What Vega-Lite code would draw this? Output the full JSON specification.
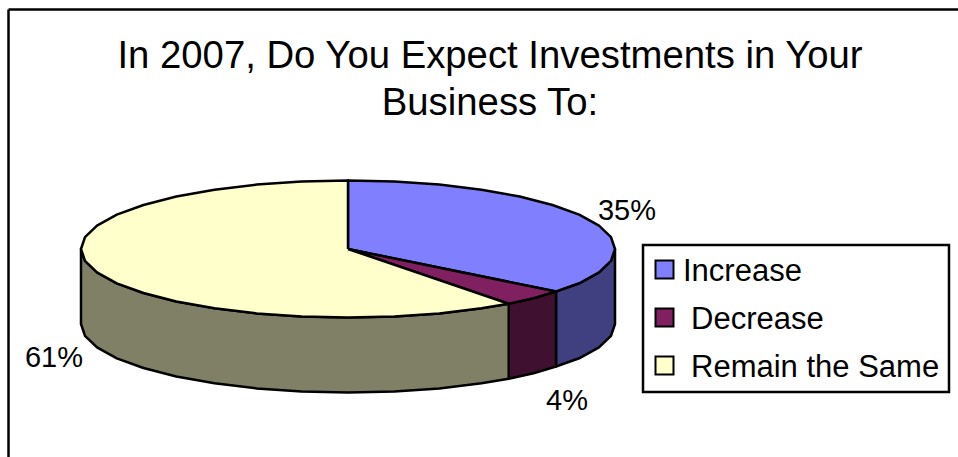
{
"$schema":"https://vega.github.io/schema/vega-lite/v6.json",
"width":950,"height":448,
"padding":{"left":8,"top":9,"right":0,"bottom":0},
"autosize":"none",
"background":"white",
"view":{"stroke":null},
"title":{"text":["In 2007, Do You Expect Investments in Your","Business To:"],"anchor":"middle","dx":7,"offset":-114,"font":"Liberation Sans","fontSize":38.3,"fontWeight":"normal","color":"black","lineHeight":47},
"datasets":{
"sides":[
{"slice":"Increase","i":1,"px":267,"py":0},{"slice":"Increase","i":2,"px":263,"py":-11.9},{"slice":"Increase","i":3,"px":251,"py":-23.4},{"slice":"Increase","i":4,"px":231.2,"py":-34.3},{"slice":"Increase","i":5,"px":208,"py":-42.5},{"slice":"Increase","i":6,"px":208,"py":-117.5},{"slice":"Increase","i":7,"px":231.2,"py":-109.3},{"slice":"Increase","i":8,"px":251,"py":-98.4},{"slice":"Increase","i":9,"px":263,"py":-86.9},{"slice":"Increase","i":10,"px":267,"py":-75},{"slice":"Increase","i":11,"px":267,"py":0},
{"slice":"Decrease","i":1,"px":208,"py":-42.5},{"slice":"Decrease","i":2,"px":185.5,"py":-49.3},{"slice":"Decrease","i":3,"px":160.7,"py":-54.7},{"slice":"Decrease","i":4,"px":160.7,"py":-129.7},{"slice":"Decrease","i":5,"px":185.5,"py":-124.3},{"slice":"Decrease","i":6,"px":208,"py":-117.5},{"slice":"Decrease","i":7,"px":208,"py":-42.5},
{"slice":"Remain the Same","i":1,"px":160.7,"py":-54.7},{"slice":"Remain the Same","i":2,"px":133.5,"py":-59.3},{"slice":"Remain the Same","i":3,"px":91.3,"py":-64.4},{"slice":"Remain the Same","i":4,"px":46.4,"py":-67.5},{"slice":"Remain the Same","i":5,"px":0,"py":-68.5},{"slice":"Remain the Same","i":6,"px":-46.4,"py":-67.5},{"slice":"Remain the Same","i":7,"px":-91.3,"py":-64.4},{"slice":"Remain the Same","i":8,"px":-133.5,"py":-59.3},{"slice":"Remain the Same","i":9,"px":-171.7,"py":-52.5},{"slice":"Remain the Same","i":10,"px":-204.5,"py":-44},{"slice":"Remain the Same","i":11,"px":-231.2,"py":-34.3},{"slice":"Remain the Same","i":12,"px":-251,"py":-23.4},{"slice":"Remain the Same","i":13,"px":-263,"py":-11.9},{"slice":"Remain the Same","i":14,"px":-267,"py":0},{"slice":"Remain the Same","i":15,"px":-267,"py":-75},{"slice":"Remain the Same","i":16,"px":-263,"py":-86.9},{"slice":"Remain the Same","i":17,"px":-251,"py":-98.4},{"slice":"Remain the Same","i":18,"px":-231.2,"py":-109.3},{"slice":"Remain the Same","i":19,"px":-204.5,"py":-119},{"slice":"Remain the Same","i":20,"px":-171.7,"py":-127.5},{"slice":"Remain the Same","i":21,"px":-133.5,"py":-134.3},{"slice":"Remain the Same","i":22,"px":-91.3,"py":-139.4},{"slice":"Remain the Same","i":23,"px":-46.4,"py":-142.5},{"slice":"Remain the Same","i":24,"px":0,"py":-143.5},{"slice":"Remain the Same","i":25,"px":46.4,"py":-142.5},{"slice":"Remain the Same","i":26,"px":91.3,"py":-139.4},{"slice":"Remain the Same","i":27,"px":133.5,"py":-134.3},{"slice":"Remain the Same","i":28,"px":160.7,"py":-129.7},{"slice":"Remain the Same","i":29,"px":160.7,"py":-54.7}
],
"tops":[
{"slice":"Increase","i":1,"px":0,"py":0},{"slice":"Increase","i":2,"px":0,"py":68.5},{"slice":"Increase","i":3,"px":46.4,"py":67.5},{"slice":"Increase","i":4,"px":91.3,"py":64.4},{"slice":"Increase","i":5,"px":133.5,"py":59.3},{"slice":"Increase","i":6,"px":171.7,"py":52.5},{"slice":"Increase","i":7,"px":204.5,"py":44},{"slice":"Increase","i":8,"px":231.2,"py":34.3},{"slice":"Increase","i":9,"px":251,"py":23.4},{"slice":"Increase","i":10,"px":263,"py":11.9},{"slice":"Increase","i":11,"px":267,"py":0},{"slice":"Increase","i":12,"px":263,"py":-11.9},{"slice":"Increase","i":13,"px":251,"py":-23.4},{"slice":"Increase","i":14,"px":231.2,"py":-34.3},{"slice":"Increase","i":15,"px":208,"py":-42.5},{"slice":"Increase","i":16,"px":0,"py":0},
{"slice":"Decrease","i":1,"px":0,"py":0},{"slice":"Decrease","i":2,"px":208,"py":-42.5},{"slice":"Decrease","i":3,"px":185.5,"py":-49.3},{"slice":"Decrease","i":4,"px":160.7,"py":-54.7},{"slice":"Decrease","i":5,"px":0,"py":0},
{"slice":"Remain the Same","i":1,"px":0,"py":0},{"slice":"Remain the Same","i":2,"px":160.7,"py":-54.7},{"slice":"Remain the Same","i":3,"px":133.5,"py":-59.3},{"slice":"Remain the Same","i":4,"px":91.3,"py":-64.4},{"slice":"Remain the Same","i":5,"px":46.4,"py":-67.5},{"slice":"Remain the Same","i":6,"px":0,"py":-68.5},{"slice":"Remain the Same","i":7,"px":-46.4,"py":-67.5},{"slice":"Remain the Same","i":8,"px":-91.3,"py":-64.4},{"slice":"Remain the Same","i":9,"px":-133.5,"py":-59.3},{"slice":"Remain the Same","i":10,"px":-171.7,"py":-52.5},{"slice":"Remain the Same","i":11,"px":-204.5,"py":-44},{"slice":"Remain the Same","i":12,"px":-231.2,"py":-34.3},{"slice":"Remain the Same","i":13,"px":-251,"py":-23.4},{"slice":"Remain the Same","i":14,"px":-263,"py":-11.9},{"slice":"Remain the Same","i":15,"px":-267,"py":0},{"slice":"Remain the Same","i":16,"px":-263,"py":11.9},{"slice":"Remain the Same","i":17,"px":-251,"py":23.4},{"slice":"Remain the Same","i":18,"px":-231.2,"py":34.3},{"slice":"Remain the Same","i":19,"px":-204.5,"py":44},{"slice":"Remain the Same","i":20,"px":-171.7,"py":52.5},{"slice":"Remain the Same","i":21,"px":-133.5,"py":59.3},{"slice":"Remain the Same","i":22,"px":-91.3,"py":64.4},{"slice":"Remain the Same","i":23,"px":-46.4,"py":67.5},{"slice":"Remain the Same","i":24,"px":0,"py":68.5},{"slice":"Remain the Same","i":25,"px":0,"py":0}
],
"labels":[{"label":"35%","px":279,"py":38},{"label":"4%","px":219,"py":-152},{"label":"61%","px":-294,"py":-109}]
},
"layer":[
{"data":{"name":"sides"},
"mark":{"type":"line","stroke":"black","strokeWidth":2.5,"strokeJoin":"round"},
"encoding":{
"x":{"field":"px","type":"quantitative","scale":{"domain":[-340,610],"nice":false,"zero":false},"axis":{"orient":"top","title":null,"labels":false,"ticks":false,"grid":false,"domain":true,"domainColor":"black","domainWidth":2.5}},
"y":{"field":"py","type":"quantitative","scale":{"domain":[-208,240],"nice":false,"zero":false},"axis":{"orient":"left","title":null,"labels":false,"ticks":false,"grid":false,"domain":true,"domainColor":"black","domainWidth":2.5}},
"order":{"field":"i","type":"quantitative"},
"fill":{"field":"slice","type":"nominal","scale":{"domain":["Increase","Decrease","Remain the Same"],"range":["#404080","#401030","#808066"]},"legend":null}
}},
{"data":{"name":"tops"},
"mark":{"type":"line","stroke":"black","strokeWidth":2.5,"strokeJoin":"round"},
"encoding":{
"x":{"field":"px","type":"quantitative"},
"y":{"field":"py","type":"quantitative"},
"order":{"field":"i","type":"quantitative"},
"fill":{"field":"slice","type":"nominal","scale":{"domain":["Increase","Decrease","Remain the Same"],"range":["#8080FF","#802060","#FFFFCC"]},
"legend":{"title":null,"orient":"none","legendX":635,"legendY":236,"symbolType":"square","symbolSize":324,"symbolStrokeColor":"black","symbolStrokeWidth":2,"symbolOpacity":1,"symbolOffset":-3,"labelFont":"Liberation Sans","labelFontSize":31,"labelColor":"black","labelLimit":400,"labelOffset":17,"rowPadding":15,"padding":9,"strokeColor":"black","fillColor":"white",
"encode":{"legend":{"update":{"strokeWidth":{"value":2.5}}},"labels":{"update":{"dx":{"signal":"datum.value=='Increase'?-14:-6"},"dy":{"value":2}}}}}}
}},
{"data":{"name":"labels"},
"mark":{"type":"text","font":"Liberation Sans","fontSize":29,"color":"black","align":"center","baseline":"middle"},
"encoding":{"x":{"field":"px","type":"quantitative"},"y":{"field":"py","type":"quantitative"},"text":{"field":"label","type":"nominal"}}}
],
"resolve":{"scale":{"fill":"independent"}}
}
